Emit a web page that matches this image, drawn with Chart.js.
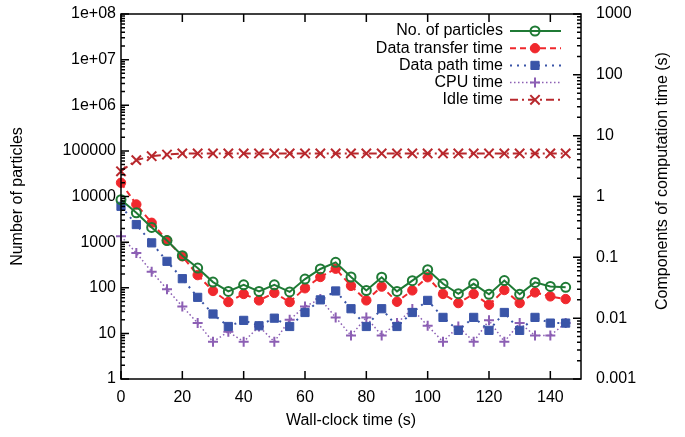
<!DOCTYPE html>
<html>
<head>
<meta charset="utf-8">
<script src="https://cdn.jsdelivr.net/npm/chart.js@4"></script>
<style>
  body { margin: 0; background: #fff; }
  #wrap { width: 685px; height: 437px; }
</style>
</head>
<body>
<div id="wrap"><canvas id="chart" width="685" height="437"></canvas></div>
<script>
// data
const times = [0, 5, 10, 15, 20, 25, 30, 35, 40, 45, 50, 55, 60, 65, 70, 75, 80, 85, 90, 95, 100, 105, 110, 115, 120, 125, 130, 135, 140, 145];
const particles = [8500, 4400, 2100, 1080, 505, 270, 133, 83, 116, 83, 116, 81, 155, 258, 360, 172, 87, 170, 83, 143, 249, 122, 74, 122, 72, 144, 72, 131, 107, 102];
const transferTime = [1.68, 0.74, 0.37, 0.19, 0.104, 0.051, 0.028, 0.0184, 0.025, 0.0196, 0.026, 0.0184, 0.031, 0.0475, 0.065, 0.034, 0.0196, 0.033, 0.0186, 0.0286, 0.047, 0.025, 0.0177, 0.025, 0.0166, 0.029, 0.0177, 0.0265, 0.0228, 0.0206];
const pathTime = [0.69, 0.346, 0.173, 0.086, 0.0446, 0.022, 0.0117, 0.0073, 0.0092, 0.0075, 0.01, 0.0073, 0.0124, 0.02, 0.028, 0.0143, 0.0073, 0.0143, 0.0073, 0.0124, 0.0196, 0.0103, 0.0063, 0.0103, 0.0063, 0.0124, 0.0063, 0.0103, 0.0083, 0.0083];
const cpuTime = [0.222, 0.118, 0.058, 0.030, 0.0156, 0.0083, 0.0041, 0.006, 0.0041, 0.0073, 0.0041, 0.0094, 0.0156, 0.0206, 0.0103, 0.0052, 0.0103, 0.0052, 0.0083, 0.0141, 0.0075, 0.0041, 0.0073, 0.0041, 0.0092, 0.0041, 0.0083, 0.0052, 0.0052, 0.0083];
const idleTime = [2.6, 3.96, 4.6, 4.9, 5.1, 5.1, 5.1, 5.1, 5.1, 5.1, 5.1, 5.1, 5.1, 5.1, 5.1, 5.1, 5.1, 5.1, 5.1, 5.1, 5.1, 5.1, 5.1, 5.1, 5.1, 5.1, 5.1, 5.1, 5.1, 5.1];

const xTicks = [0, 20, 40, 60, 80, 100, 120, 140];
const leftTicks = [1, 10, 100, 1000, 10000, 100000, 1e6, 1e7, 1e8];
const rightTicks = [0.001, 0.01, 0.1, 1, 10, 100, 1000];

const FONT = '"Liberation Sans", Arial, Helvetica, sans-serif';

function pts(ys) {
    return times.map((t, i) => ({ x: t, y: ys[i] }));
}

function leftLabel(v) {
    if (v >= 1e6) {
        const e = Math.round(Math.log10(v));
        return '1e+' + String(e).padStart(2, '0');
    }
    return String(v);
}

// frame, inward ticks, right title and gnuplot style key
const gnuplotDecor = {
    id: 'gnuplotDecor',
    afterDraw(chart) {
        const ctx = chart.ctx;
        const a = chart.chartArea;
        const sx = chart.scales.x, sy = chart.scales.y, sy2 = chart.scales.y2;
        ctx.save();
        ctx.strokeStyle = '#000';
        ctx.lineWidth = 1.5;
        ctx.setLineDash([]);
        ctx.beginPath();
        // x ticks, bottom and top
        xTicks.forEach(v => {
            const px = sx.getPixelForValue(v);
            ctx.moveTo(px, a.bottom); ctx.lineTo(px, a.bottom - 8);
            ctx.moveTo(px, a.top); ctx.lineTo(px, a.top + 8);
        });
        // log ticks on left and right
        const logTicks = (scale, lo, hi, x, dir) => {
            for (let d = lo; d <= hi; d++) {
                const base = Math.pow(10, d);
                const py = scale.getPixelForValue(base);
                ctx.moveTo(x, py); ctx.lineTo(x + dir * 8, py);
                if (d === hi) break;
                for (let m = 2; m <= 9; m++) {
                    const my = scale.getPixelForValue(base * m);
                    ctx.moveTo(x, my); ctx.lineTo(x + dir * 4, my);
                }
            }
        };
        logTicks(sy, 0, 8, a.left, 1);
        logTicks(sy2, -3, 3, a.right, -1);
        ctx.stroke();
        ctx.strokeRect(a.left, a.top, a.right - a.left, a.bottom - a.top);

        // right axis title, reading upward
        ctx.fillStyle = '#000';
        ctx.font = '16px ' + FONT;
        ctx.textAlign = 'center';
        ctx.textBaseline = 'middle';
        ctx.translate(663, 181);
        ctx.rotate(-Math.PI / 2);
        ctx.fillText('Components of computation time (s)', 0, 0);
        ctx.restore();

        // key
        ctx.save();
        ctx.font = '16px ' + FONT;
        ctx.textAlign = 'right';
        ctx.textBaseline = 'middle';
        chart.data.datasets.forEach((ds, i) => {
            const y = 31 + i * 17.2;
            ctx.fillStyle = '#000';
            ctx.fillText(ds.label, 503, y);
            ctx.strokeStyle = ds.borderColor;
            ctx.lineWidth = ds.borderWidth;
            ctx.setLineDash(ds.borderDash || []);
            ctx.beginPath();
            ctx.moveTo(510, y); ctx.lineTo(561, y);
            ctx.stroke();
            ctx.setLineDash([]);
            ctx.fillStyle = ds.pointBackgroundColor;
            ctx.strokeStyle = ds.borderColor;
            ctx.lineWidth = ds.pointBorderWidth;
            Chart.helpers.drawPoint(ctx, {
                pointStyle: ds.pointStyle,
                radius: ds.pointRadius,
                rotation: 0,
                borderWidth: ds.pointBorderWidth
            }, 535, y);
        });
        ctx.restore();
    }
};

const noPad = s => { s.paddingTop = 0; s.paddingBottom = 0; };

new Chart(document.getElementById('chart'), {
    type: 'line',
    data: {
        datasets: [
            {
                label: 'No. of particles', data: pts(particles), yAxisID: 'y', clip: false,
                borderColor: '#1f7a35', borderWidth: 2, borderDash: [],
                pointStyle: 'circle', pointRadius: 4.5, pointBorderWidth: 2,
                pointBackgroundColor: 'rgba(255,255,255,0)', pointBorderColor: '#1f7a35'
            },
            {
                label: 'Data transfer time', data: pts(transferTime), yAxisID: 'y2', clip: false,
                borderColor: '#f0282d', borderWidth: 2, borderDash: [6, 4],
                pointStyle: 'circle', pointRadius: 4.7, pointBorderWidth: 1,
                pointBackgroundColor: '#f0282d', pointBorderColor: '#f0282d'
            },
            {
                label: 'Data path time', data: pts(pathTime), yAxisID: 'y2', clip: false,
                borderColor: '#3a55a8', borderWidth: 2, borderDash: [2, 5],
                pointStyle: 'rect', pointRadius: 5.8, pointBorderWidth: 1,
                pointBackgroundColor: '#3a55a8', pointBorderColor: '#3a55a8'
            },
            {
                label: 'CPU time', data: pts(cpuTime), yAxisID: 'y2', clip: false,
                borderColor: '#8c5fb4', borderWidth: 1.5, borderDash: [1.5, 2.5],
                pointStyle: 'cross', pointRadius: 5, pointBorderWidth: 2,
                pointBackgroundColor: '#8c5fb4', pointBorderColor: '#8c5fb4'
            },
            {
                label: 'Idle time', data: pts(idleTime), yAxisID: 'y2', clip: false,
                borderColor: '#b8282d', borderWidth: 2, borderDash: [8, 4, 2, 4],
                pointStyle: 'crossRot', pointRadius: 6.6, pointBorderWidth: 2,
                pointBackgroundColor: '#b8282d', pointBorderColor: '#b8282d'
            }
        ]
    },
    options: {
        responsive: false,
        animation: false,
        layout: { padding: { top: 14, left: 0, right: 0, bottom: 0 } },
        plugins: { legend: { display: false }, tooltip: { enabled: false } },
        elements: { line: { tension: 0, fill: false } },
        scales: {
            x: {
                type: 'linear', min: 0, max: 150,
                grid: { display: false, drawTicks: false },
                border: { display: false },
                afterBuildTicks: s => { s.ticks = xTicks.map(v => ({ value: v })); },
                afterFit: s => { s.height = 58; s.paddingLeft = 0; s.paddingRight = 0; },
                ticks: { color: '#000', font: { size: 16, family: FONT }, padding: 9, autoSkip: false, maxRotation: 0 },
                title: { display: true, text: 'Wall-clock time (s)', color: '#000', font: { size: 16, family: FONT }, padding: { top: 0, bottom: 7 } }
            },
            y: {
                type: 'logarithmic', position: 'left', min: 1, max: 1e8,
                grid: { display: false, drawTicks: false },
                border: { display: false },
                afterBuildTicks: s => { s.ticks = leftTicks.map(v => ({ value: v })); },
                afterFit: s => { s.width = 121; noPad(s); },
                ticks: { color: '#000', font: { size: 16, family: FONT }, padding: 5, autoSkip: false, callback: v => leftLabel(v) },
                title: { display: true, text: 'Number of particles', color: '#000', font: { size: 16, family: FONT }, padding: { top: 8, bottom: 0 } }
            },
            y2: {
                type: 'logarithmic', position: 'right', min: 0.001, max: 1000,
                grid: { display: false, drawTicks: false },
                border: { display: false },
                afterBuildTicks: s => { s.ticks = rightTicks.map(v => ({ value: v })); },
                afterFit: s => { s.width = 104; noPad(s); },
                ticks: { color: '#000', font: { size: 16, family: FONT }, padding: 15, autoSkip: false, callback: v => String(v) }
            }
        }
    },
    plugins: [gnuplotDecor]
});
</script>
</body>
</html>
